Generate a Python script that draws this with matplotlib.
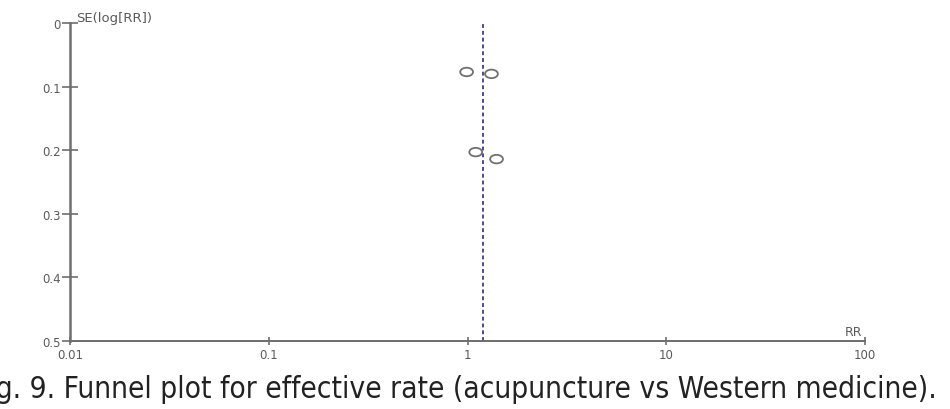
import matplotlib
matplotlib.use("Agg")
import matplotlib.pyplot as plt
from matplotlib.path import Path
from matplotlib.transforms import Affine2D

# Study estimates
rr = [0.99, 1.32, 1.10, 1.40]
se = [0.077, 0.080, 0.203, 0.214]
pooled_rr = 1.19

x_ticks = [0.01, 0.1, 1, 10, 100]
x_labels = ["0.01", "0.1", "1", "10", "100"]
y_ticks = [0, 0.1, 0.2, 0.3, 0.4, 0.5]
y_labels = ["0", "0.1", "0.2", "0.3", "0.4", "0.5"]

caption = "Fig. 9. Funnel plot for effective rate (acupuncture vs Western medicine)."

axis_grey = "#6e6e6e"
label_grey = "#5a5a5a"

fig = plt.figure(figsize=(9.5, 4.1), dpi=100)
ax = fig.add_axes([70 / 950, 1 - 342 / 410, 795 / 950, 318 / 410])

# open elliptical markers
ellipse = Path.unit_circle().transformed(Affine2D().scale(1.5, 1.0))
ax.scatter(rr, se, marker=ellipse, s=85, facecolors="none",
           edgecolors="#707070", linewidths=1.3, zorder=3)

ax.axvline(pooled_rr, color="#4b4b8f", linestyle=(0, (2, 1.5)), linewidth=1.4)

ax.set_xscale("log")
ax.set_xlim(0.01, 100)
ax.set_ylim(0.5, 0)
ax.set_xticks(x_ticks)
ax.set_xticklabels(x_labels)
ax.set_yticks(y_ticks)
ax.set_yticklabels(y_labels)
ax.minorticks_off()

for side in ["top", "right"]:
    ax.spines[side].set_visible(False)
for side in ["left", "bottom"]:
    ax.spines[side].set_color(axis_grey)
ax.spines["left"].set_linewidth(1.8)
ax.spines["bottom"].set_linewidth(1.4)

ax.tick_params(direction="inout", width=1.2, color=axis_grey,
               labelsize=8.5, labelcolor=label_grey, pad=1)
ax.tick_params(axis="y", length=11)
ax.tick_params(axis="x", length=6, pad=2)

ax.text(0.008, 1.018, "SE(log[RR])", transform=ax.transAxes, ha="left",
        va="center", fontsize=9.5, color=label_grey)
ax.text(0.996, 0.01, "RR", transform=ax.transAxes, ha="right",
        va="bottom", fontsize=9, color=label_grey)

fig.text(-0.026, 0.029, caption, ha="left", va="baseline", fontsize=21.4,
         color="#222222", family="DejaVu Sans", stretch="condensed")

fig.savefig("out.png", dpi=100)
